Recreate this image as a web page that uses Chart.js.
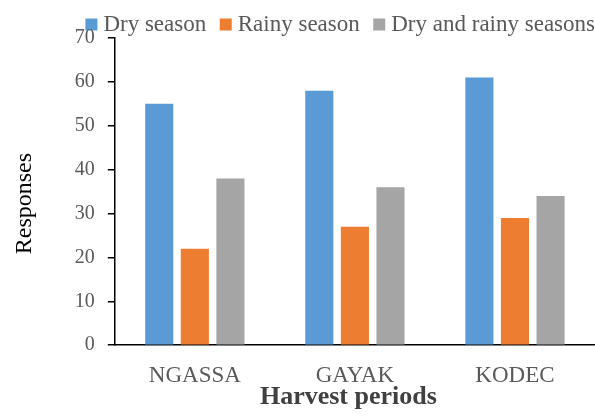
<!DOCTYPE html>
<html><head><meta charset="utf-8">
<script src="https://cdn.jsdelivr.net/npm/chart.js@4"></script>
<style>html,body{margin:0;padding:0;background:#fff}#wrap{width:595px;height:417px}</style>
</head><body><div id="wrap"><canvas id="c" width="595" height="417"></canvas></div>
<script>
const categories = ["NGASSA", "GAYAK", "KODEC"];
const drySeason = [55, 58, 61];
const rainySeason = [22, 27, 29];
const dryAndRainy = [38, 36, 34];
const seriesNames = ["Dry season", "Rainy season", "Dry and rainy seasons"];
const yTicks = [0, 10, 20, 30, 40, 50, 60, 70];

const FONT = "'Liberation Serif', 'DejaVu Serif', serif";
const LEG_PAD = 19;
const shiftLegend = {
  id: 'shiftLegend',
  afterLayout(chart) {
    const lg = chart.legend;
    if (lg) { lg.left += LEG_PAD; lg.right += LEG_PAD; lg.top -= 6; lg.bottom += 6; }
  }
};
new Chart(document.getElementById('c'), {
  type: 'bar',
  data: {
    labels: categories,
    datasets: [
      {label: seriesNames[0], data: drySeason, backgroundColor: '#5B9BD5'},
      {label: seriesNames[1], data: rainySeason, backgroundColor: '#ED7D31'},
      {label: seriesNames[2], data: dryAndRainy, backgroundColor: '#A5A5A5'}
    ]
  },
  plugins: [shiftLegend],
  options: {
    responsive: false,
    animation: false,
    devicePixelRatio: 1,
    layout: {padding: {left: 4, right: 0, top: 0, bottom: 4}},
    datasets: {bar: {categoryPercentage: 0.667, barPercentage: 0.79}},
    plugins: {
      tooltip: {enabled: false},
      legend: {
        position: 'top', align: 'end', maxHeight: 38,
        labels: {usePointStyle: true, pointStyle: 'rect', boxWidth: 1, boxHeight: 12,
          padding: LEG_PAD, color: '#595959', font: {family: FONT, size: 23}}
      }
    },
    scales: {
      x: {
        grid: {display: true, drawOnChartArea: false, drawTicks: false},
        border: {color: '#000', width: 1.5},
        ticks: {color: '#595959', padding: 17, font: {family: FONT, size: 23}},
        title: {display: true, text: 'Harvest periods  ', color: '#404040', padding: {top: -25, bottom: 0},
          font: {family: FONT, size: 26, weight: 'bold'}}
      },
      y: {
        min: 0, max: 70,
        afterBuildTicks: (s) => { s.ticks = yTicks.map(v => ({value: v})); },
        grid: {display: true, drawOnChartArea: false, drawTicks: true, tickLength: 7, color: '#000', lineWidth: 1.5},
        border: {color: '#000', width: 1.5},
        ticks: {color: '#595959', padding: 13, font: {family: FONT, size: 20}},
        title: {display: true, text: 'Responses    ', color: '#000', padding: {top: 6, bottom: 23},
          font: {family: FONT, size: 24}}
      }
    }
  }
});
</script></body></html>
